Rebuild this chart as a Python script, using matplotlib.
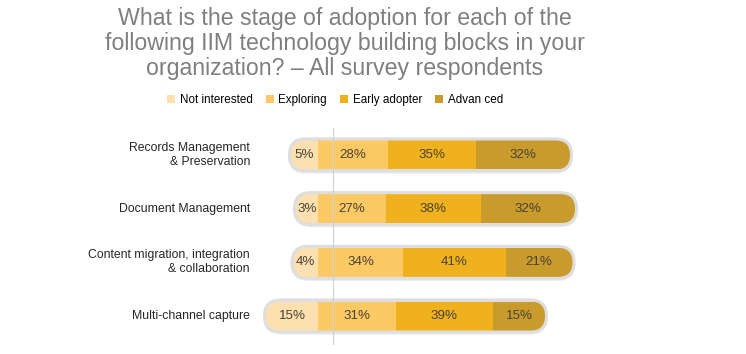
import matplotlib.pyplot as plt
from matplotlib.patches import FancyBboxPatch, Patch
from matplotlib.transforms import blended_transform_factory

# data
categories = ["Records Management\n& Preservation",
              "Document Management",
              "Content migration, integration\n& collaboration",
              "Multi-channel capture"]
not_interested = [5, 3, 4, 15]
exploring = [28, 27, 34, 31]
early_adopter = [35, 38, 41, 39]
advanced = [32, 32, 21, 15]
series_names = ["Not interested", "Exploring", "Early adopter", "Advan ced"]
colors = ["#fde0b0", "#fdc964", "#efb21e", "#c89b2c"]

plt.rcParams['font.family'] = ['Liberation Sans', 'DejaVu Sans']

W, H = 746, 354
fig = plt.figure(figsize=(W / 100, H / 100), dpi=100)
ax = fig.add_axes([260 / W, 1 - 345 / H, 340 / W, 217 / H])
ax.set_xlim(-23.2, 112.8)
ax.set_ylim(3.54, -0.503)
ax.axis('off')

# pixel scale of the axes, used to keep the bar ends round
px_x = ax.transData.transform((1, 0))[0] - ax.transData.transform((0, 0))[0]
px_y = abs(ax.transData.transform((0, 1))[1] - ax.transData.transform((0, 0))[1])
aspect = px_x / px_y

bar_px = 29
border_px = 3
cap = (bar_px / 2) / px_x     # round cap length in data units
bar_h = bar_px / px_y


def pill(x0, x1, yc, height_px, **kw):
    r = (height_px / 2) / px_x
    h = height_px / px_y
    return FancyBboxPatch((x0, yc - h / 2), x1 - x0, h,
                          boxstyle=f"round,pad=0,rounding_size={r}",
                          mutation_aspect=aspect, **kw)


label_color = "#4a4232"
for i in range(len(categories)):
    left = -not_interested[i]
    right = exploring[i] + early_adopter[i] + advanced[i]
    bx = border_px / px_x
    # soft gray track behind the bar
    ax.add_patch(pill(left - cap - bx, right + cap + bx, i + 0.6 / px_y,
                      bar_px + 2 * border_px + 1, facecolor="#ededed",
                      edgecolor="none", zorder=1))
    ax.add_patch(pill(left - cap - bx, right + cap + bx, i,
                      bar_px + 2 * border_px, facecolor="#dedede",
                      edgecolor="none", zorder=1))
    clip = pill(left - cap, right + cap, i, bar_px, facecolor="none",
                edgecolor="none", zorder=2)
    ax.add_patch(clip)

    lefts = [left - cap, 0, exploring[i], exploring[i] + early_adopter[i]]
    widths = [not_interested[i] + cap, exploring[i], early_adopter[i], advanced[i] + cap]
    vals = [not_interested[i], exploring[i], early_adopter[i], advanced[i]]
    for l, w, v, c in zip(lefts, widths, vals, colors):
        b = ax.barh(i, w, left=l, height=bar_h, color=c, edgecolor="none", zorder=2)
        for rect in b:
            rect.set_clip_path(clip)
        ax.text(l + w / 2, i, f"{v}%", ha='center', va='center',
                fontsize=9.6, color=label_color, zorder=4)

# thin vertical guide line
ax.axvline(cap, color="#cfcfcf", lw=0.8, zorder=3)

# category labels
trans = blended_transform_factory(fig.transFigure, ax.transData)
for i, cat in enumerate(categories):
    ax.text(250 / W, i, cat, transform=trans, ha='right', va='center',
            multialignment='right', fontsize=8.8, color="#262626",
            linespacing=1.25, clip_on=False)

# legend
handles = [Patch(facecolor=c, edgecolor='none', label=n) for c, n in zip(colors, series_names)]
fig.legend(handles=handles, loc='center', bbox_to_anchor=(335 / W, 1 - 100 / H),
           ncol=4, frameon=False, fontsize=8.4, handlelength=0.7, handleheight=0.7,
           handletextpad=0.4, columnspacing=1.1, borderaxespad=0)

# title
fig.text(345 / W, 1 - 7 / H,
         "What is the stage of adoption for each of the\n"
         "following IIM technology building blocks in your\n"
         "organization? \u2013 All survey respondents",
         ha='center', va='top', fontsize=16.7, color="#7f7f7f", linespacing=1.1)

fig.savefig("out.png", dpi=100)
